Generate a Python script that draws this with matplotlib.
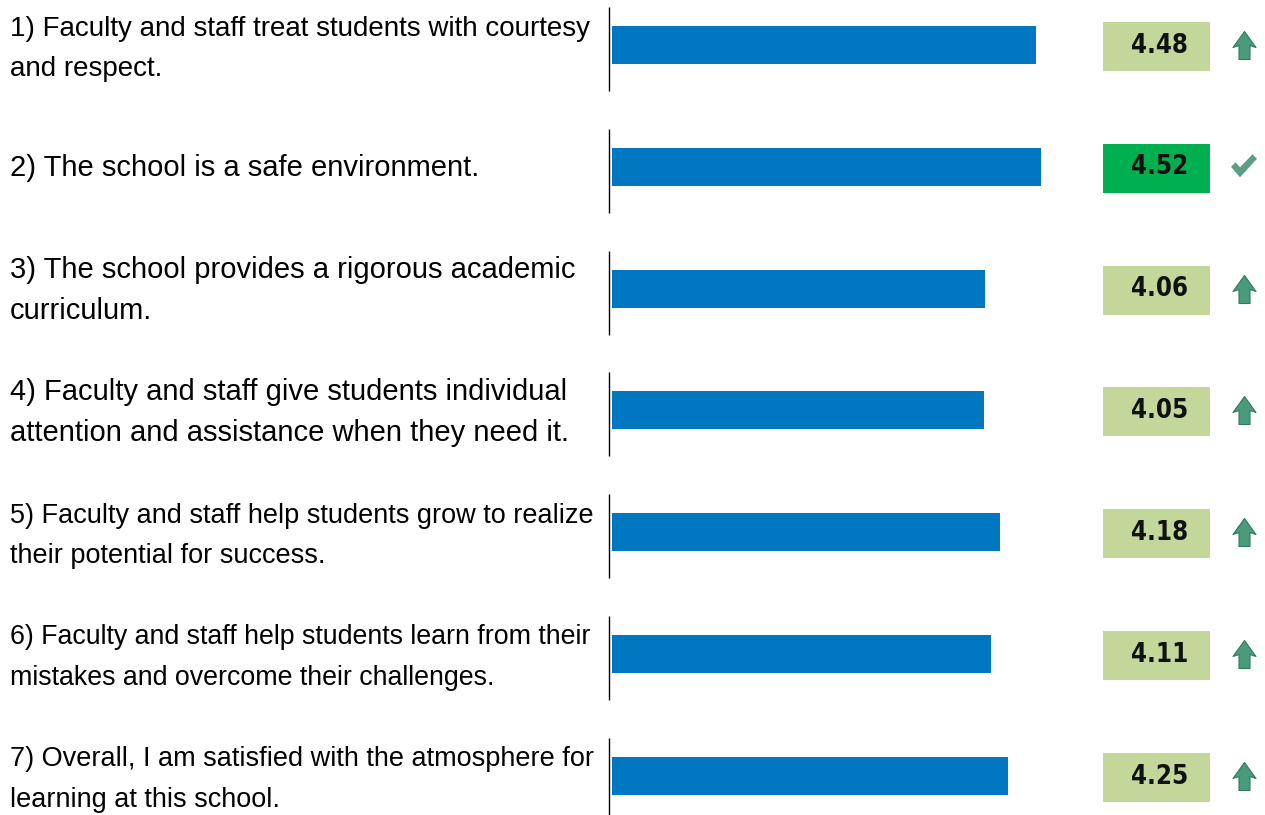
import matplotlib
matplotlib.use("Agg")
import matplotlib.pyplot as plt
from matplotlib.path import Path
from matplotlib.patches import Rectangle
from matplotlib import font_manager
import matplotlib.transforms as mtransforms

questions = [
    "1) Faculty and staff treat students with courtesy\nand respect.",
    "2) The school is a safe environment.",
    "3) The school provides a rigorous academic\ncurriculum.",
    "4) Faculty and staff give students individual\nattention and assistance when they need it.",
    "5) Faculty and staff help students grow to realize\ntheir potential for success.",
    "6) Faculty and staff help students learn from their\nmistakes and overcome their challenges.",
    "7) Overall, I am satisfied with the atmosphere for\nlearning at this school.",
]
scores = [4.48, 4.52, 4.06, 4.05, 4.18, 4.11, 4.25]
status = ["up", "check", "up", "up", "up", "up", "up"]

# pick a narrow bold face for the score boxes if one is installed
num_font = None
for f in font_manager.fontManager.ttflist:
    nm = (f.name + " " + f.fname).lower()
    bold = f.weight in ("bold", 700, "heavy", 800) or "bold" in f.fname.lower()
    if bold and ("narrow" in nm or "condensed" in nm or f.stretch == "condensed"):
        num_font = font_manager.FontProperties(fname=f.fname, size=18.5)
        break
if num_font is None:
    num_font = font_manager.FontProperties(family="DejaVu Sans", weight="bold", size=17)

W, H = 1265, 815
fig = plt.figure(figsize=(W / 100, H / 100), dpi=100)

# bar area: from the separator line to the right edge
ax = fig.add_axes([608 / W, 0, 1 - 608 / W, 1])
px_x = 121.9   # pixels per score unit
px_y = 121.8   # pixels per row
ax.set_xlim(1 - 4 / px_x, 1 + (W - 612) / px_x)
ax.set_ylim((H - 45) / px_y, -45 / px_y)
ax.axis("off")

rows = list(range(len(scores)))
ax.barh(rows, [s - 1 for s in scores], left=1, height=38 / px_y, color="#0077C0")

yax = ax.get_yaxis_transform()
ax.vlines([0.002] * len(rows), [r - 38 / px_y for r in rows], [r + 46 / px_y for r in rows],
          color="black", lw=1.0, transform=yax, clip_on=False)

# value boxes
box_x0 = (1103 - 608) / 657
box_w = 107 / 657
for r, s, st in zip(rows, scores, status):
    col = "#00B050" if st == "check" else "#C4D79B"
    ax.add_patch(Rectangle((box_x0, r - 23 / px_y), box_w, 49 / px_y, facecolor=col,
                           edgecolor="none", transform=yax, clip_on=False))
    ax.text(0.840, r + 7.7 / px_y, f"{s:.2f}", transform=yax, ha="center", va="baseline",
            fontproperties=num_font, color="#111111")

# icons
arrow = Path([(0, 14), (11.5, -2), (5.5, 0), (5.5, -14), (-5.5, -14), (-5.5, 0), (-11.5, -2), (0, 14)],
             [Path.MOVETO] + [Path.LINETO] * 6 + [Path.CLOSEPOLY])
check = Path([(-13, -1), (-8.5, 3.5), (-4, -1.5), (8.5, 11.5), (13, 7), (-4, -11.5), (-13, -1)],
             [Path.MOVETO] + [Path.LINETO] * 5 + [Path.CLOSEPOLY])
ico_x = (1244 - 608) / 657
up_rows = [r for r, st in zip(rows, status) if st == "up"]
ck_rows = [r for r, st in zip(rows, status) if st == "check"]
ax.scatter([ico_x] * len(up_rows), up_rows, marker=arrow, s=(28 * 0.72) ** 2,
           facecolor="#4A9A7C", edgecolor="#2F7A5E", linewidth=0.8, transform=yax, clip_on=False)
ax.scatter([ico_x] * len(ck_rows), [r - 1 / px_y for r in ck_rows], marker=check,
           s=(26 * 0.72) ** 2, facecolor="#5C9E82", edgecolor="none", transform=yax, clip_on=False)

# question labels (baseline of the last line)
lab_tr = mtransforms.blended_transform_factory(fig.transFigure, ax.transData)
base_fs, base_ls = 21, 1.6
labels = []
for r, q in zip(rows, questions):
    n = q.count("\n") + 1
    off = 8.7 if n == 1 else 30.8
    t = fig.text(10 / W, r + off / px_y, q, transform=lab_tr, ha="left", va="baseline",
                 fontsize=base_fs, family=["Liberation Sans", "DejaVu Sans"],
                 linespacing=base_ls, color="black")
    labels.append(t)

# long lines are squeezed to stay left of the separator, keeping the line pitch
renderer = fig.canvas.get_renderer()
for t in labels:
    fs = t.get_fontsize()
    while t.get_window_extent(renderer).x1 > 598 and fs > 10:
        fs -= 0.25
        t.set_fontsize(fs)
        t.set_linespacing(base_ls * base_fs / fs)

fig.savefig("out.png", dpi=100)
